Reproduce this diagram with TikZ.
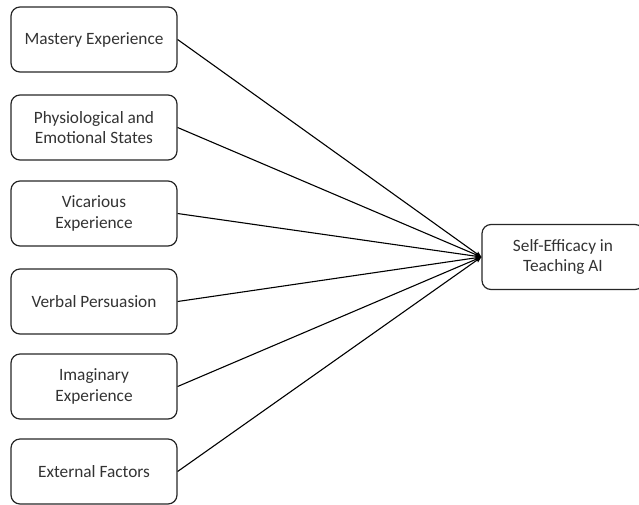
\documentclass[tikz,border=0pt]{standalone}
\usepackage{fontspec}
\setmainfont{Carlito}
\usetikzlibrary{arrows.meta}

\tikzset{
    factor/.style={draw=black!85, line width=1.2pt, rounded corners=9pt, minimum width=166pt,
        minimum height=65pt, align=center, text=black!80, font=\fontsize{17.3}{20.5}\selectfont},
    link/.style={line width=1.1pt, -{Stealth[length=6pt, width=5pt]}}
}

\begin{document}
\begin{tikzpicture}[x=1pt, y=-1pt]
    \useasboundingbox (0, 0) rectangle (639, 504);

    \node [factor] (mastery) at (94, 39.5) {Mastery Experience};
    \node [factor] (physio) at (94, 127.5) {Physiological and\\Emotional States};
    \node [factor] (vicarious) at (94, 213.5) {Vicarious\\Experience};
    \node [factor] (verbal) at (94, 301.5) {Verbal Persuasion};
    \node [factor] (imaginary) at (94, 386.5) {Imaginary\\Experience};
    \node [factor] (external) at (94, 471.5) {External Factors};

    \node [factor, minimum width=162pt] (efficacy) at (563, 257) {Self-Efficacy in\\Teaching AI};

    \draw [link] (mastery.east) -- (efficacy.west);
    \draw [link] (physio.east) -- (efficacy.west);
    \draw [link] (vicarious.east) -- (efficacy.west);
    \draw [link] (verbal.east) -- (efficacy.west);
    \draw [link] (imaginary.east) -- (efficacy.west);
    \draw [link] (external.east) -- (efficacy.west);

\end{tikzpicture}
\end{document}
